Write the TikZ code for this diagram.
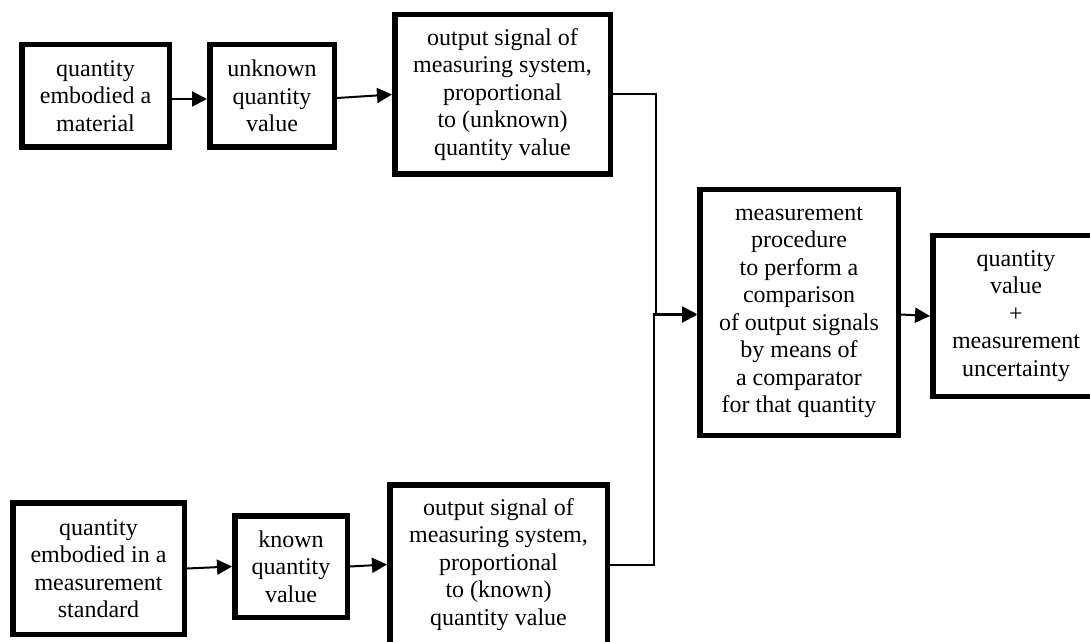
\documentclass[tikz,border=0pt]{standalone}
\usepackage{fontspec}
\setmainfont{Liberation Serif}
\usetikzlibrary{arrows.meta}
\begin{document}
\begin{tikzpicture}[x=1pt,y=1pt,
  box/.style={draw, line width=5.5pt, align=center, inner sep=0pt,
    font=\fontsize{24}{27.5}\selectfont},
  conn/.style={line width=2pt, -{Triangle[length=15pt,width=15pt]}}]
\useasboundingbox (0,0) rectangle (1090,641);
\clip (0,0) rectangle (1090,641);
\node[box, minimum width=147.5pt, minimum height=102.5pt] (A) at (95.5,545) {quantity\\embodied a\\material};
\node[box, minimum width=124.5pt, minimum height=102.5pt] (B) at (272,545) {unknown\\quantity\\value};
\node[box, minimum width=215.5pt, minimum height=159.5pt] (C) at (502.5,546.5) {output signal of\\measuring system,\\proportional\\to (unknown)\\quantity value};
\node[box, minimum width=198.5pt, minimum height=245.5pt] (D) at (799,328.5) {measurement\\procedure\\to perform a\\comparison\\of output signals\\by means of\\a comparator\\for that quantity};
\node[box, minimum width=166.5pt, minimum height=160.5pt] (E) at (1016,325) {quantity\\value\\+\\measurement\\uncertainty};
\node[box, minimum width=171.5pt, minimum height=131.5pt] (G) at (98.5,72.5) {quantity\\embodied in a\\measurement\\standard};
\node[box, minimum width=112.5pt, minimum height=101.5pt] (H) at (291,74.5) {known\\quantity\\value};
\node[box, minimum width=217.5pt, minimum height=159.5pt] (F) at (498.5,76.5) {output signal of\\measuring system,\\proportional\\to (known)\\quantity value};
\coordinate (jt) at (656,326);
\coordinate (jb) at (654,327);
\draw[conn] ([yshift=-3pt]A.east) -- ([yshift=-3pt]B.west);
\draw[conn] ([yshift=-2pt]B.east) -- (C.west);
\draw[conn] (C.east) -| (jt) -- (jt -| D.west);
\draw[conn] (F.east) -| (jb) -- (jb -| D.west);
\draw[conn] ([yshift=-2pt]D.east) -- (E.west);
\draw[conn] (G.east) -- (H.west);
\draw[conn] (H.east) -- (F.west);
\end{tikzpicture}
\end{document}
